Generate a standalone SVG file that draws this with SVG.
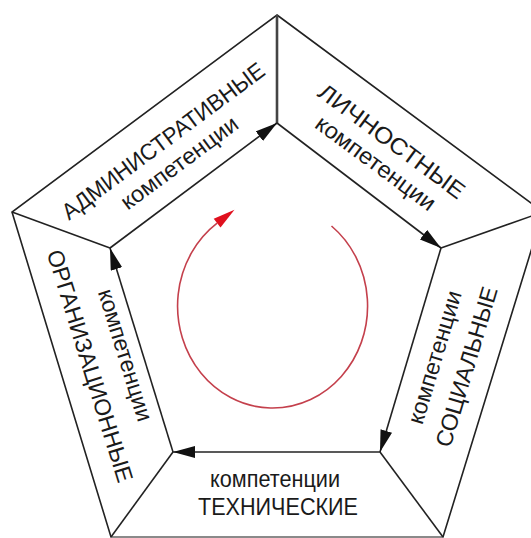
<svg xmlns="http://www.w3.org/2000/svg" width="531" height="538" viewBox="0 0 531 538">
<defs>
<style>
.edge{fill:none;stroke:#222;stroke-width:1.6}
.arr{fill:none;stroke:#222;stroke-width:1.6;marker-end:url(#ah)}
.t{font-family:"Liberation Sans",Arial,sans-serif;fill:#1a1a1a;text-anchor:middle}
.big{font-size:23px}
.small{font-size:23px}
</style>
<marker id="ah" markerUnits="userSpaceOnUse" markerWidth="24" markerHeight="12" refX="22" refY="6" orient="auto"><path d="M0,0 L22,6 L0,12 z" fill="#111"/></marker>
</defs>
<rect width="531" height="538" fill="#fff"/>
<g id="frame">
<polygon class="edge" points="277,15 543,212 443,537 111,537 12,212"/>
<line x1="111" y1="537" x2="443" y2="537" stroke="#bbb" stroke-width="1.2"/>
<line x1="277" y1="15" x2="277" y2="123" stroke="#444" stroke-width="2.6"/>
<line class="edge" x1="543" y1="212" x2="441" y2="248"/>
<line class="edge" x1="443" y1="537" x2="380" y2="452"/>
<line class="edge" x1="111" y1="537" x2="173" y2="452"/>
<line class="edge" x1="12" y1="212" x2="110" y2="248"/>
</g>
<g id="connectors">
<line class="arr" x1="110" y1="248" x2="277" y2="123"/>
<line class="arr" x1="277" y1="123" x2="441" y2="248"/>
<line class="arr" x1="441" y1="248" x2="380" y2="452"/>
<line class="arr" x1="380" y1="452" x2="173" y2="452"/>
<line class="arr" x1="173" y1="452" x2="110" y2="248"/>
</g>
<g id="cycle">
<path d="M331.5,226 A95,102 0 1 1 217.1,223.2" fill="none" stroke="#c4404c" stroke-width="1.6"/>
<polygon points="234.5,209.8 220.5,227.6 213.7,218.8" fill="#e0101e"/>
</g>
<g id="node-admin">
<text class="t big" transform="translate(167.8,147.3) rotate(-36.6)" textLength="246" lengthAdjust="spacingAndGlyphs">АДМИНИСТРАТИВНЫЕ</text>
<text class="t small" transform="translate(183.9,169) rotate(-36.6)" textLength="140" lengthAdjust="spacingAndGlyphs">компетенции</text>
</g>
<g id="node-personal">
<text class="t big" transform="translate(387.1,147.6) rotate(36.5)" textLength="176" lengthAdjust="spacingAndGlyphs">ЛИЧНОСТНЫЕ</text>
<text class="t small" transform="translate(371.1,169.3) rotate(36.5)" textLength="143" lengthAdjust="spacingAndGlyphs">компетенции</text>
</g>
<g id="node-social">
<text class="t small" transform="translate(442.2,359.5) rotate(-73.3)" textLength="138" lengthAdjust="spacingAndGlyphs">компетенции</text>
<text class="t big" transform="translate(474,369) rotate(-73.3)" textLength="166" lengthAdjust="spacingAndGlyphs">СОЦИАЛЬНЫЕ</text>
</g>
<g id="node-technical">
<text class="t small" x="275" y="487" style="font-size:24px" textLength="130" lengthAdjust="spacingAndGlyphs">компетенции</text>
<text class="t big" x="278" y="515" style="font-size:24px" textLength="160" lengthAdjust="spacingAndGlyphs">ТЕХНИЧЕСКИЕ</text>
</g>
<g id="node-organizational">
<text class="t small" transform="translate(117.9,357.4) rotate(72.8)" textLength="137" lengthAdjust="spacingAndGlyphs">компетенции</text>
<text class="t big" transform="translate(82.4,368.3) rotate(72.8)" textLength="242" lengthAdjust="spacingAndGlyphs">ОРГАНИЗАЦИОННЫЕ</text>
</g>
</svg>
